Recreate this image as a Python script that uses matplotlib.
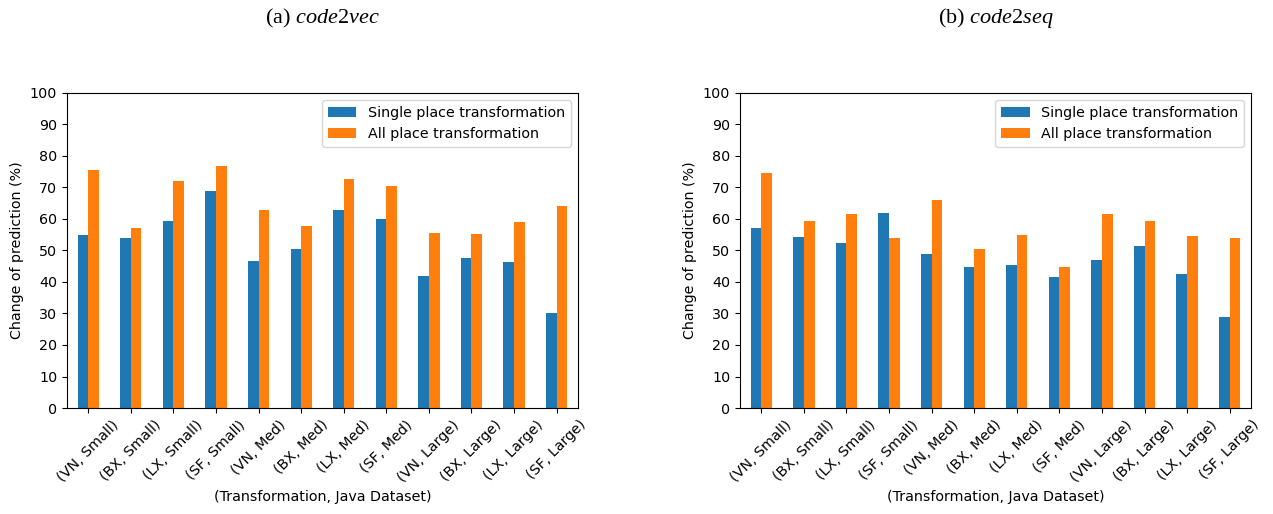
import matplotlib.pyplot as plt
import numpy as np

plt.rcParams['font.size'] = 10.3
plt.rcParams['mathtext.fontset'] = 'custom'
plt.rcParams['mathtext.rm'] = 'Liberation Serif'
plt.rcParams['mathtext.it'] = 'Liberation Serif:italic'

# categories
labels = ['(VN, Small)', '(BX, Small)', '(LX, Small)', '(SF, Small)',
          '(VN, Med)', '(BX, Med)', '(LX, Med)', '(SF, Med)',
          '(VN, Large)', '(BX, Large)', '(LX, Large)', '(SF, Large)']

# code2vec
vec_single = [54.9, 53.9, 59.4, 68.8, 46.6, 50.4, 62.9, 60.0, 42.0, 47.7, 46.5, 30.3]
vec_all = [75.4, 57.0, 72.0, 76.9, 63.0, 57.9, 72.6, 70.4, 55.4, 55.3, 59.0, 64.1]

# code2seq
seq_single = [57.2, 54.4, 52.5, 61.9, 48.9, 44.7, 45.3, 41.6, 47.0, 51.5, 42.5, 29.0]
seq_all = [74.7, 59.2, 61.6, 53.9, 66.1, 50.6, 54.9, 44.6, 61.7, 59.5, 54.7, 54.1]

titles = [r'(a) $\it{code2vec}$', r'(b) $\it{code2seq}$']

fig = plt.figure(figsize=(12.73, 5.14), dpi=100)
ax1 = fig.add_axes([0.0526, 0.2062, 0.4014, 0.613])
ax2 = fig.add_axes([0.5813, 0.2062, 0.4014, 0.613])

x = np.arange(len(labels))
w = 0.25

for ax, single, allp, title in [(ax1, vec_single, vec_all, titles[0]),
                                (ax2, seq_single, seq_all, titles[1])]:
    ax.bar(x - w / 2, single, w, color='#1f77b4', label='Single place transformation')
    ax.bar(x + w / 2, allp, w, color='#ff7f0e', label='All place transformation')
    ax.set_xlim(-0.5, len(labels) - 0.5)
    ax.set_ylim(0, 100)
    ax.set_yticks(range(0, 101, 10))
    ax.set_xticks(x)
    ax.set_xticklabels(labels, rotation=45, ha='center')
    ax.set_xlabel('(Transformation, Java Dataset)')
    ax.set_ylabel('Change of prediction (%)')
    ax.legend(loc='upper right')
    pos = ax.get_position()
    fig.text((pos.x0 + pos.x1) / 2, 0.965, title, ha='center', va='center',
             fontsize=16, family='Liberation Serif')

plt.savefig('out.png', dpi=100)
